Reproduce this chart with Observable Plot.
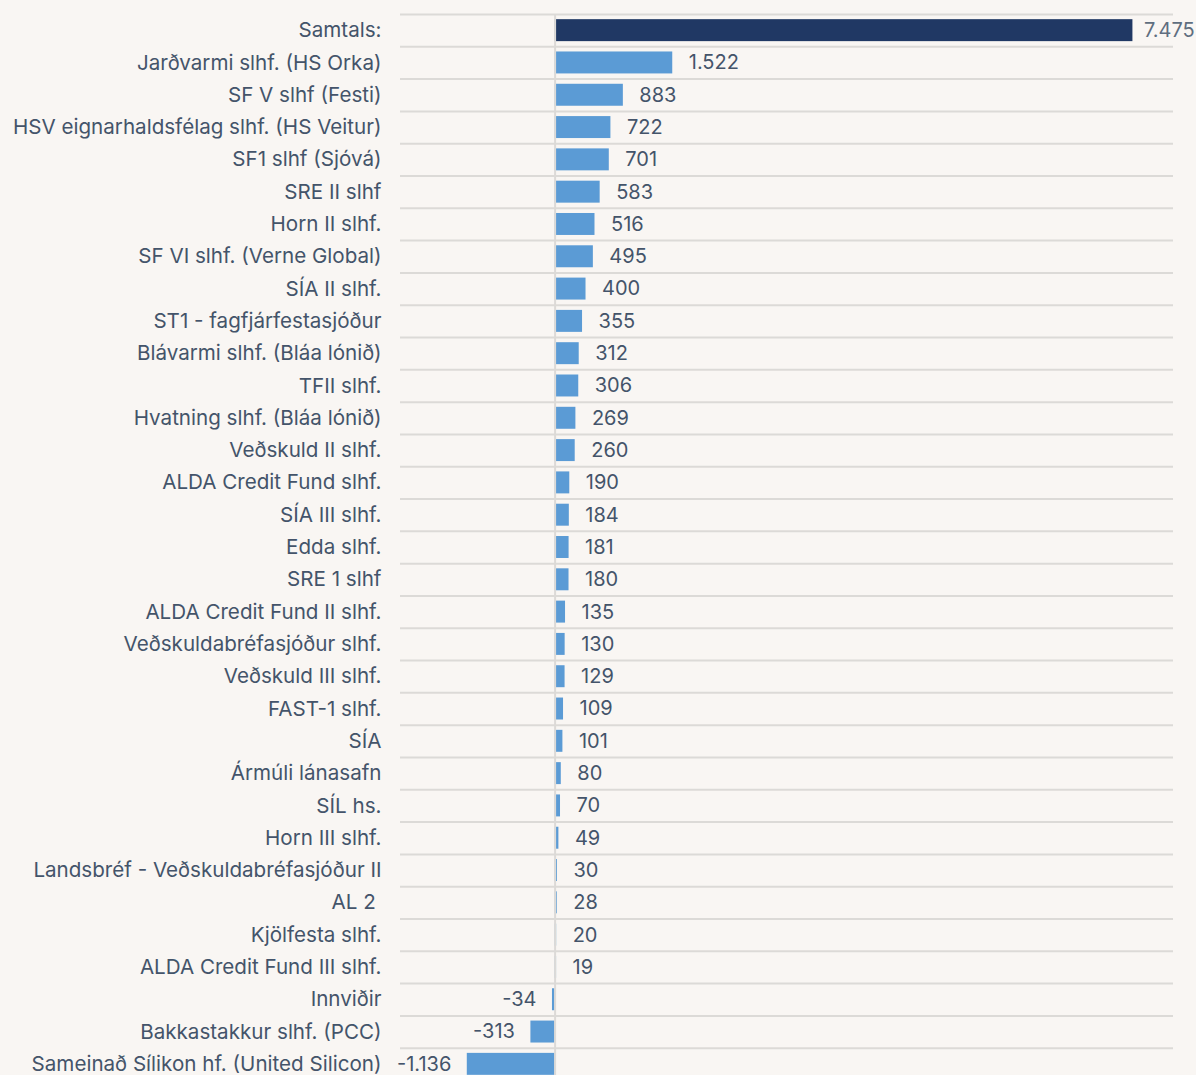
<!DOCTYPE html>
<html>
<head>
<meta charset="utf-8">
<script src="https://cdn.jsdelivr.net/npm/d3@7"></script>
<script src="https://cdn.jsdelivr.net/npm/@observablehq/plot@0.6"></script>
<style>
  html, body { margin: 0; padding: 0; background: #f9f6f3; overflow: hidden; }
  #chart svg { display: block; }
</style>
</head>
<body>
<div id="chart"></div>
<script>
const names = [
  "Samtals:",
  "Jarðvarmi slhf. (HS Orka)",
  "SF V slhf (Festi)",
  "HSV eignarhaldsfélag slhf. (HS Veitur)",
  "SF1 slhf (Sjóvá)",
  "SRE II slhf",
  "Horn II slhf.",
  "SF VI slhf. (Verne Global)",
  "SÍA II slhf.",
  "ST1 - fagfjárfestasjóður",
  "Blávarmi slhf. (Bláa lónið)",
  "TFII slhf.",
  "Hvatning slhf. (Bláa lónið)",
  "Veðskuld II slhf.",
  "ALDA Credit Fund slhf.",
  "SÍA III slhf.",
  "Edda slhf.",
  "SRE 1 slhf",
  "ALDA Credit Fund II slhf.",
  "Veðskuldabréfasjóður slhf.",
  "Veðskuld III slhf.",
  "FAST-1 slhf.",
  "SÍA",
  "Ármúli lánasafn",
  "SÍL hs.",
  "Horn III slhf.",
  "Landsbréf - Veðskuldabréfasjóður II",
  "AL 2 ",
  "Kjölfesta slhf.",
  "ALDA Credit Fund III slhf.",
  "Innviðir",
  "Bakkastakkur slhf. (PCC)",
  "Sameinað Sílikon hf. (United Silicon)"
];
const values = [7475, 1522, 883, 722, 701, 583, 516, 495, 400, 355, 312, 306, 269, 260, 190, 184, 181, 180, 135, 130, 129, 109, 101, 80, 70, 49, 30, 28, 20, 19, -34, -313, -1136];
const xDomain = [-2000, 8000];

const data = names.map((name, i) => ({name, value: values[i], total: i === 0}));
const fmt = v => (v < 0 ? "-" : "") + d3.format(",")(Math.abs(v)).replace(/,/g, ".");

const W = 1196, H = 1081, MT = 14, MB = 1;
const step = (H - MT - MB) / names.length;
const textColor = "#44546a";
const gridColor = "#dcdad7";
const font = "Inter, 'Noto Sans', sans-serif";
const fsLabel = 20.6;
const fsValue = 20;

const chart = Plot.plot({
  width: W,
  height: H,
  marginTop: MT,
  marginBottom: MB,
  marginLeft: 400,
  marginRight: 23,
  style: {background: "#f9f6f3", fontFamily: font, fontSize: fsLabel + "px", color: textColor},
  x: {domain: xDomain, axis: null},
  y: {domain: names, paddingInner: 0.32, paddingOuter: 0.16, round: false, label: null},
  marks: [
    Plot.ruleY(names, {y: d => d, dy: step / 2, stroke: gridColor, strokeWidth: 2}),
    Plot.ruleY([names[0]], {y: d => d, dy: -step / 2, stroke: gridColor, strokeWidth: 2}),
    Plot.barX(data, {y: "name", x: "value", fill: d => d.total ? "#203864" : "#5b9bd5"}),
    Plot.ruleX([0], {stroke: gridColor, strokeWidth: 2}),
    Plot.axisY({tickSize: 0, tickPadding: 19, fontSize: fsLabel, fill: textColor, label: null}),
    Plot.text(data.filter(d => !d.total && d.value >= 0), {y: "name", x: "value", text: d => fmt(d.value), textAnchor: "start", dx: 16, fill: textColor, fontSize: fsValue}),
    Plot.text(data.filter(d => d.value < 0), {y: "name", x: "value", text: d => fmt(d.value), textAnchor: "end", dx: -16, fill: textColor, fontSize: fsValue}),
    Plot.text(data.filter(d => d.total), {y: "name", x: "value", text: d => fmt(d.value), textAnchor: "start", dx: 11, fill: "#5f6e80", fontSize: fsValue})
  ]
});
document.getElementById("chart").appendChild(chart);
</script>
</body>
</html>
